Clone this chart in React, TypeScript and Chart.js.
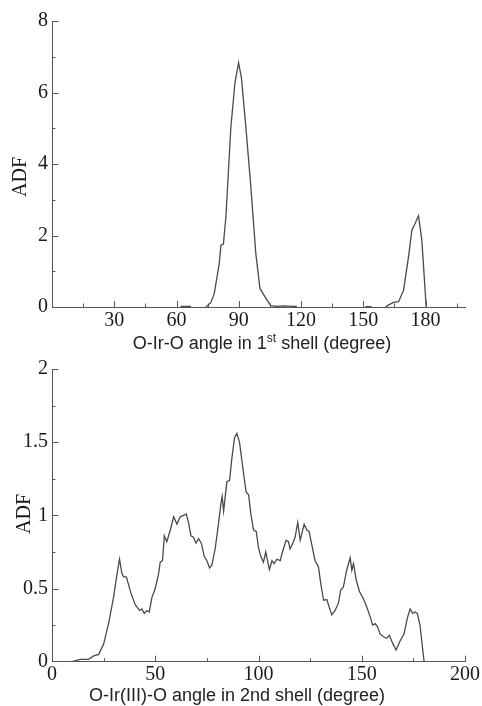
import React, { useEffect, useRef } from "react";
import { Chart, registerables } from "chart.js";

Chart.register(...registerables);

// ---------- data: top panel (1st shell) ----------
const topAngles = [62, 67, 70, 74.2, 76.5, 78.2, 80.6, 81.4, 82.6, 83.8, 86.2, 88.2, 89.9, 91.3, 93.4, 95.8, 98.2, 100.2, 103, 105.4, 108, 112, 116, 118, 130, 151, 154, 156, 160.6, 162.2, 164.6, 167, 169.4, 171.8, 173.4, 175, 176.6, 178.2, 180.3];
const topADF = [0.02, 0.02, null, 0, 0.12, 0.38, 1.22, 1.73, 1.76, 2.53, 5.04, 6.3, 6.83, 6.4, 5.04, 3.37, 1.5, 0.52, 0.25, 0.04, 0.02, 0.03, 0.02, 0.02, null, 0.01, 0.01, null, 0, 0.06, 0.13, 0.15, 0.47, 1.41, 2.15, 2.34, 2.55, 1.87, 0];

// ---------- data: bottom panel (2nd shell) ----------
const bottomAngles = [9.7, 13.7, 17.7, 20.2, 22.6, 25, 27.4, 29.8, 31.5, 32.7, 33.9, 34.7, 36, 38.2, 40.3, 42.4, 43.5, 44.7, 46, 47.1, 48.4, 50, 51.6, 52.4, 53.5, 54.4, 55.6, 57.3, 58.9, 60.5, 62.1, 63.7, 65, 66.1, 67.3, 68.5, 69.7, 71, 72.3, 73.7, 75, 76.3, 77.4, 79, 80.6, 81.8, 82.4, 83.1, 83.9, 84.7, 86, 87.1, 88.4, 89.5, 90.8, 91.9, 93.2, 94, 95.2, 96.3, 97.6, 98.9, 100, 101.1, 102.4, 103.5, 104.5, 105.3, 106.5, 107.6, 108.9, 110.5, 111.8, 113.4, 114.5, 115.3, 116.6, 117.7, 119, 120.2, 121, 122.1, 123.4, 124.5, 125.8, 127.4, 129, 130.2, 131.5, 133.1, 134.2, 135.5, 137.1, 138.7, 139.8, 141.1, 142.7, 144.4, 145.2, 146, 147.3, 148.9, 150.8, 152.4, 154, 155.3, 156.5, 157.6, 158.9, 160.5, 162.1, 163.4, 165, 166.6, 168.5, 170.5, 172.1, 173.4, 174.7, 175.8, 176.9, 178.2, 179, 180.2];
const bottomADF = [0, 0.016, 0.016, 0.04, 0.05, 0.12, 0.26, 0.44, 0.6, 0.7, 0.6, 0.58, 0.58, 0.47, 0.39, 0.35, 0.36, 0.33, 0.35, 0.34, 0.44, 0.5, 0.6, 0.68, 0.69, 0.86, 0.82, 0.9, 0.99, 0.94, 0.99, 1.0, 1.01, 0.95, 0.86, 0.85, 0.81, 0.84, 0.81, 0.72, 0.69, 0.64, 0.66, 0.77, 0.94, 1.08, 1.13, 1.03, 1.13, 1.23, 1.24, 1.39, 1.53, 1.56, 1.5, 1.38, 1.24, 1.16, 1.14, 1.01, 0.9, 0.89, 0.78, 0.72, 0.68, 0.75, 0.68, 0.63, 0.69, 0.67, 0.7, 0.69, 0.76, 0.83, 0.82, 0.77, 0.81, 0.85, 0.95, 0.83, 0.875, 0.94, 0.9, 0.89, 0.8, 0.69, 0.65, 0.53, 0.42, 0.425, 0.375, 0.32, 0.35, 0.4, 0.49, 0.51, 0.625, 0.71, 0.625, 0.67, 0.56, 0.48, 0.43, 0.375, 0.31, 0.25, 0.26, 0.24, 0.19, 0.17, 0.16, 0.18, 0.125, 0.08, 0.14, 0.19, 0.3, 0.36, 0.33, 0.34, 0.33, 0.25, 0.15, 0];

// ---------- ticks & labels ----------
const topXTicks = [0, 15, 30, 45, 60, 75, 90, 105, 120, 135, 150, 165, 180, 195];
const topXLabels = [30, 60, 90, 120, 150, 180];
const topYTicks = [0, 1, 2, 3, 4, 5, 6, 7, 8];
const topYLabels = [0, 2, 4, 6, 8];
const bottomXTicks = [0, 25, 50, 75, 100, 125, 150, 175, 200];
const bottomXLabels = [0, 50, 100, 150, 200];
const bottomYTicks = [0, 0.25, 0.5, 0.75, 1, 1.25, 1.5, 1.75, 2];
const bottomYLabels = [0, 0.5, 1, 1.5, 2];

const topXTitle = [
  { text: "O-Ir-O angle in 1", sup: false },
  { text: "st", sup: true },
  { text: " shell (degree)", sup: false },
];
const bottomXTitle = [{ text: "O-Ir(III)-O angle in 2nd shell (degree)", sup: false }];
const yTitle = "ADF";

const SERIF = "'Liberation Serif', 'Times New Roman', serif";
const SANS = "'Liberation Sans', Arial, sans-serif";
const AXIS = "#555555";
const LINE = "#4a4a4a";
const TEXT = "#1a1a1a";

type Panel = {
  xs: number[];
  ys: (number | null)[];
  xMax: number;
  yMax: number;
  xTicks: number[];
  xLabels: number[];
  yTicks: number[];
  yLabels: number[];
  padTop: number;
  padRight: number;
  xAxisHeight: number;
  xPad: number;
  xTitle: { text: string; sup: boolean }[];
  xTitlePos: [number, number];
  yTitlePos: [number, number];
};

function makeDecor(p: Panel) {
  return {
    id: "adfDecor",
    afterDraw(chart: any) {
      const ctx = chart.ctx as CanvasRenderingContext2D;
      const area = chart.chartArea;
      const xs = chart.scales.x;
      const ys = chart.scales.y;
      ctx.save();
      ctx.strokeStyle = AXIS;
      ctx.lineWidth = 1;
      xs.ticks.forEach((t: any) => {
        if (t.value === 0) return;
        const px = Math.round(xs.getPixelForValue(t.value)) + 0.5;
        const len = p.xLabels.includes(t.value) ? 6 : 3.5;
        ctx.beginPath();
        ctx.moveTo(px, area.bottom);
        ctx.lineTo(px, area.bottom - len);
        ctx.stroke();
      });
      ys.ticks.forEach((t: any) => {
        if (t.value === 0) return;
        const py = Math.round(ys.getPixelForValue(t.value)) + 0.5;
        const len = p.yLabels.includes(t.value) ? 6.5 : 3.5;
        ctx.beginPath();
        ctx.moveTo(area.left, py);
        ctx.lineTo(area.left + len, py);
        ctx.stroke();
      });
      // x title (with optional superscript)
      ctx.fillStyle = "#222222";
      ctx.textBaseline = "middle";
      ctx.textAlign = "left";
      const mainFont = `18px ${SANS}`;
      const supFont = `12px ${SANS}`;
      let total = 0;
      p.xTitle.forEach((s) => {
        ctx.font = s.sup ? supFont : mainFont;
        total += ctx.measureText(s.text).width;
      });
      let cx = p.xTitlePos[0] - total / 2;
      const cy = p.xTitlePos[1];
      p.xTitle.forEach((s) => {
        ctx.font = s.sup ? supFont : mainFont;
        ctx.fillText(s.text, cx, s.sup ? cy - 5 : cy);
        cx += ctx.measureText(s.text).width;
      });
      // y title
      ctx.translate(p.yTitlePos[0], p.yTitlePos[1]);
      ctx.rotate(-Math.PI / 2);
      ctx.font = `20px ${SERIF}`;
      ctx.textAlign = "center";
      ctx.fillStyle = TEXT;
      ctx.fillText(yTitle, 0, 0);
      ctx.restore();
    },
  };
}

function makeChart(canvas: HTMLCanvasElement, p: Panel) {
  return new Chart(canvas, {
    type: "line",
    data: {
      datasets: [
        {
          data: p.xs.map((x, i) => ({ x, y: p.ys[i] })) as any,
          borderColor: LINE,
          borderWidth: 1.3,
          pointRadius: 0,
          tension: 0,
          fill: false,
          spanGaps: false,
        },
      ],
    },
    options: {
      responsive: false,
      animation: false,
      devicePixelRatio: 1,
      layout: { padding: { top: p.padTop, right: p.padRight, left: 0, bottom: 0 } },
      plugins: { legend: { display: false }, tooltip: { enabled: false } },
      scales: {
        x: {
          type: "linear",
          min: 0,
          max: p.xMax,
          afterFit: (s: any) => {
            s.height = p.xAxisHeight;
          },
          afterBuildTicks: (s: any) => {
            s.ticks = p.xTicks.map((v) => ({ value: v }));
          },
          grid: { display: false, drawTicks: false },
          border: { display: true, color: AXIS, width: 1 },
          ticks: {
            autoSkip: false,
            maxRotation: 0,
            padding: p.xPad,
            color: TEXT,
            font: { family: SERIF, size: 20 },
            callback: (v: any) => (p.xLabels.includes(Number(v)) ? String(v) : ""),
          },
        },
        y: {
          type: "linear",
          min: 0,
          max: p.yMax,
          afterFit: (s: any) => {
            s.width = 52;
          },
          afterBuildTicks: (s: any) => {
            s.ticks = p.yTicks.map((v) => ({ value: v }));
          },
          grid: { display: false, drawTicks: false },
          border: { display: true, color: AXIS, width: 1 },
          ticks: {
            autoSkip: false,
            padding: 4,
            color: TEXT,
            font: { family: SERIF, size: 20 },
            callback: (v: any) => (p.yLabels.includes(Number(v)) ? String(v) : ""),
          },
        },
      },
    } as any,
    plugins: [makeDecor(p)],
  });
}

const TOP_H = 353;
const BOTTOM_H = 353;

export default function App() {
  const topRef = useRef<HTMLCanvasElement>(null);
  const bottomRef = useRef<HTMLCanvasElement>(null);

  useEffect(() => {
    const c1 = makeChart(topRef.current!, {
      xs: topAngles,
      ys: topADF,
      xMax: 199,
      yMax: 8,
      xTicks: topXTicks,
      xLabels: topXLabels,
      yTicks: topYTicks,
      yLabels: topYLabels,
      padTop: 21,
      padRight: 17,
      xAxisHeight: TOP_H - 307,
      xPad: 2,
      xTitle: topXTitle,
      xTitlePos: [262, 344],
      yTitlePos: [21, 177],
    });
    const c2 = makeChart(bottomRef.current!, {
      xs: bottomAngles,
      ys: bottomADF,
      xMax: 200,
      yMax: 2,
      xTicks: bottomXTicks,
      xLabels: bottomXLabels,
      yTicks: bottomYTicks,
      yLabels: bottomYLabels,
      padTop: 368.5 - TOP_H,
      padRight: 17,
      xAxisHeight: BOTTOM_H - (661.7 - TOP_H),
      xPad: 1,
      xTitle: bottomXTitle,
      xTitlePos: [237, 696 - TOP_H],
      yTitlePos: [25, 514 - TOP_H],
    });
    return () => {
      c1.destroy();
      c2.destroy();
    };
  }, []);

  return (
    <div style={{ position: "absolute", left: 0, top: 0, width: 482, height: 706, background: "#fff", overflow: "hidden" }}>
      <canvas ref={topRef} width={482} height={TOP_H} style={{ position: "absolute", left: 0, top: 0, display: "block" }} />
      <canvas ref={bottomRef} width={482} height={BOTTOM_H} style={{ position: "absolute", left: 0, top: TOP_H, display: "block" }} />
    </div>
  );
}
